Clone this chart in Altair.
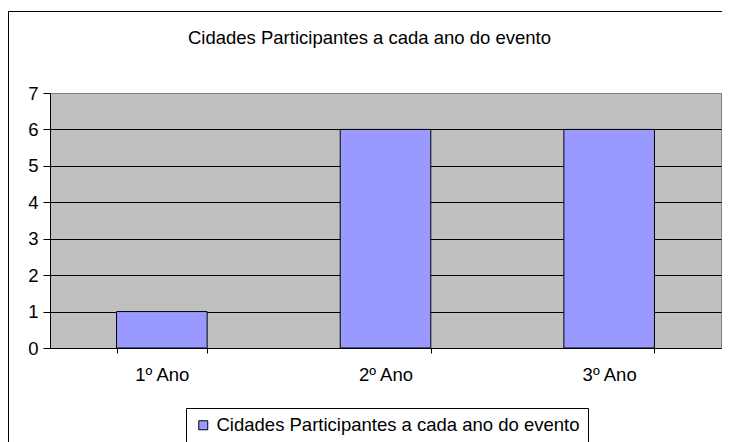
import altair as alt
import pandas as pd

categories = ["1º Ano", "2º Ano", "3º Ano"]
values = [1, 6, 6]
series_name = "Cidades Participantes a cada ano do evento"
title_text = "Cidades Participantes a cada ano do evento"
y_ticks = [0, 1, 2, 3, 4, 5, 6, 7]

df = pd.DataFrame({"ano": categories, "valor": values, "serie": [series_name] * len(categories)})

W, H = 671, 255
FONT = "Liberation Sans"
FS = 18.5

bars = alt.Chart(df).mark_bar(stroke="black", strokeWidth=1).encode(
    x=alt.X("ano:N", sort=categories, title=None,
            scale=alt.Scale(paddingInner=0.595, paddingOuter=0.2975),
            axis=alt.Axis(labelAngle=0, tickBand="extent", tickSize=5, tickColor="black",
                          domainColor="black", labelColor="black", labelFontSize=FS,
                          labelFont=FONT, labelPadding=12, grid=False)),
    y=alt.Y("valor:Q", title=None,
            scale=alt.Scale(domain=[0, 7], nice=False),
            axis=alt.Axis(values=y_ticks, tickSize=7, tickColor="black", domainColor="black",
                          labelColor="black", labelFontSize=FS, labelFont=FONT, labelPadding=5,
                          grid=True,
                          gridColor={"condition": {"test": "datum.value === 7", "value": "#808080"},
                                     "value": "black"},
                          gridOpacity=1, gridWidth=1)),
    color=alt.Color("serie:N", scale=alt.Scale(domain=[series_name], range=["#9999FF"]),
                    legend=alt.Legend(title=None, orient="none", legendX=136, legendY=315,
                                      direction="horizontal",
                                      symbolType="square", symbolSize=81,
                                      symbolStrokeColor="black", symbolStrokeWidth=1,
                                      symbolFillColor="#9999FF",
                                      labelFontSize=FS, labelFont=FONT, labelColor="black",
                                      labelOffset=4, labelLimit=600,
                                      strokeColor="black", padding=8)),
)

frame = alt.Chart(pd.DataFrame({"k": [0]})).mark_rect(
    filled=False, stroke="black", strokeWidth=1
).encode(
    x=alt.value(-41.5), x2=alt.value(W + 30), y=alt.value(-81.5), y2=alt.value(H + 120)
)

title = alt.Chart(pd.DataFrame({"t": [title_text]})).mark_text(
    font=FONT, fontSize=FS, color="black", align="center", baseline="alphabetic"
).encode(
    text="t:N", x=alt.value(W / 2 - 16), y=alt.value(-49)
)

chart = alt.layer(frame, bars, title).properties(
    width=W, height=H,
    autosize=alt.AutoSizeParams(type="none"),
    padding={"left": 42, "top": 85, "right": 1, "bottom": 94},
    background="white",
).configure_view(
    fill="#C0C0C0", stroke="#808080", strokeWidth=1
)

chart.save("out.html", embed_options={"renderer": "svg", "actions": False})
